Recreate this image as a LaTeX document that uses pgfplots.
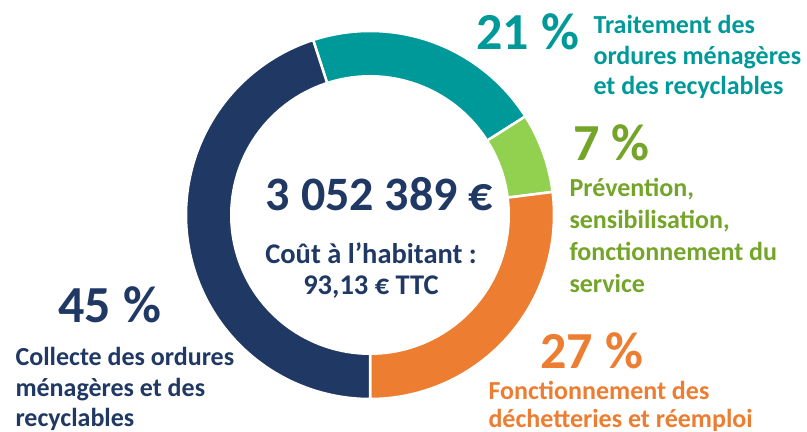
\documentclass[border=0pt]{standalone}
\usepackage{pgfplots}
\pgfplotsset{compat=1.18}
\usepackage{fontspec}
\setmainfont{Carlito}
\definecolor{cnavy}{RGB}{32,56,100}
\definecolor{cteal}{RGB}{0,153,153}
\definecolor{cgreen}{RGB}{146,208,80}
\definecolor{cgreentext}{RGB}{116,164,40}
\definecolor{corange}{RGB}{237,125,49}
% shares in percent
\def\sTeal{21}\def\sGreen{7}\def\sOrange{27}\def\sNavy{45}
\pgfmathsetmacro{\aA}{108}
\pgfmathsetmacro{\aB}{\aA-\sTeal*3.6}
\pgfmathsetmacro{\aC}{\aB-\sGreen*3.6}
\pgfmathsetmacro{\aD}{\aC-\sOrange*3.6}
\pgfmathsetmacro{\aE}{\aD-\sNavy*3.6}
\def\cx{370}\def\cy{215}\def\ro{184}\def\ri{140}
\tikzset{
  pct/.style={anchor=base west, font=\fontsize{52bp}{56bp}\selectfont\bfseries},
  lab/.style={anchor=base west, font=\fontsize{26bp}{30bp}\selectfont\bfseries},
}
\begin{document}
\begin{tikzpicture}
\begin{axis}[
  scale only axis, width=807bp, height=432bp,
  xmin=0, xmax=807, ymin=0, ymax=432, y dir=reverse,
  hide axis, clip=false,
  every node/.style={inner sep=0pt, outer sep=0pt},
]
\addplot[fill=cteal, draw=white, line width=2.5bp, domain=\aB:\aA, samples=80]
  ({\cx+\ro*cos(x)},{\cy-\ro*sin(x)}) -- (\cx,\cy) -- cycle;
\addplot[fill=cgreen, draw=white, line width=2.5bp, domain=\aC:\aB, samples=30]
  ({\cx+\ro*cos(x)},{\cy-\ro*sin(x)}) -- (\cx,\cy) -- cycle;
\addplot[fill=corange, draw=white, line width=2.5bp, domain=\aD:\aC, samples=100]
  ({\cx+\ro*cos(x)},{\cy-\ro*sin(x)}) -- (\cx,\cy) -- cycle;
\addplot[fill=cnavy, draw=white, line width=2.5bp, domain=\aE:\aD, samples=150]
  ({\cx+\ro*cos(x)},{\cy-\ro*sin(x)}) -- (\cx,\cy) -- cycle;
\addplot[fill=white, draw=none, domain=0:360, samples=160]
  ({\cx+\ri*cos(x)},{\cy-\ri*sin(x)}) -- cycle;

% center text
\node[anchor=base, text=cnavy, font=\fontsize{48bp}{52bp}\selectfont\bfseries] at (379.5,210) {3 052 389 €};
\node[anchor=base, text=cnavy, font=\fontsize{28.5bp}{32bp}\selectfont\bfseries] at (371,263) {Coût à l’habitant :};
\node[anchor=base, text=cnavy, font=\fontsize{28.5bp}{32bp}\selectfont\bfseries] at (371,294) {93,13 € TTC};

% teal label
\node[pct, text=cteal] at (473,50) {21 \%};
\node[lab, text=cteal] at (590,34) {Traitement des};
\node[lab, text=cteal] at (590,64.5) {ordures ménagères};
\node[lab, text=cteal] at (590,95) {et des recyclables};

% green label
\node[pct, text=cgreentext] at (570,160) {7 \%};
\node[lab, text=cgreentext] at (566,196) {Prévention,};
\node[lab, text=cgreentext] at (566,228) {sensibilisation,};
\node[lab, text=cgreentext] at (566,260) {fonctionnement du};
\node[lab, text=cgreentext] at (566,292) {service};

% orange label
\node[pct, text=corange] at (537,368) {27 \%};
\node[lab, text=corange] at (485,399) {Fonctionnement des};
\node[lab, text=corange] at (485,427) {déchetteries et réemploi};

% navy label
\node[pct, text=cnavy] at (55,322) {45 \%};
\node[lab, text=cnavy] at (12,365) {Collecte des ordures};
\node[lab, text=cnavy] at (12,396) {ménagères et des};
\node[lab, text=cnavy] at (12,426) {recyclables};
\end{axis}
\pgfresetboundingbox
\path (current axis.south west) rectangle (current axis.north east);
\end{tikzpicture}
\end{document}
